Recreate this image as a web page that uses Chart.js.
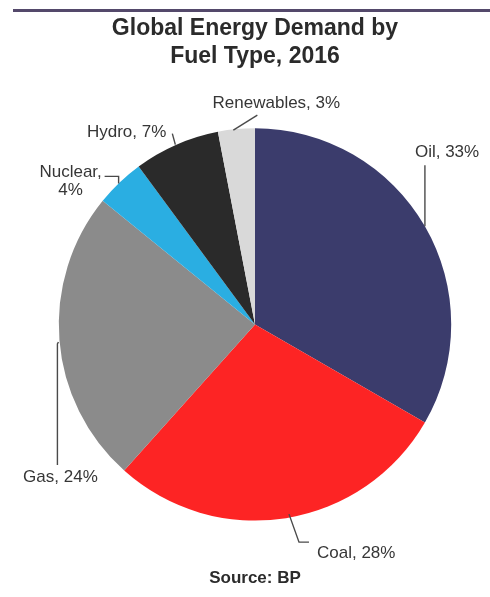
<!DOCTYPE html>
<html>
<head>
<meta charset="utf-8">
<script src="https://cdn.jsdelivr.net/npm/chart.js@4.4.1/dist/chart.umd.min.js"></script>
<style>
html,body{margin:0;padding:0;background:#fff;}
#wrap{width:490px;height:597px;}
</style>
</head>
<body>
<div id="wrap"><canvas id="c" width="490" height="597"></canvas></div>
<script>
const categories = ['Oil', 'Coal', 'Gas', 'Nuclear', 'Hydro', 'Renewables'];
const shares = [33, 28, 24, 4, 7, 3];
const sliceColors = ['#3b3c6c', '#fd2424', '#8b8b8b', '#2aaee2', '#2a2a2a', '#d9d9d9'];
const titleLines = ['Global Energy Demand by', 'Fuel Type, 2016'];
const sourceText = 'Source: BP';

// leader-line geometry, relative to each slice's outer mid-point
const leaderStyle = [
  {path: [[0,0],[0,-61]], dx: -10, dy: -74, align: 'left'},
  {path: [[3,-4],[13,24],[23,24]], dx: 31, dy: 35, align: 'left'},
  {path: [[-1,2],[-2,4],[-2,125]], dx: 1, dy: 137, align: 'center'},
  {path: [[-1,1],[-1,-6],[-15,-6]], dx: -49, dy: -10, align: 'center', multi: true},
  {path: [[-1,0],[-4,-11]], dx: -10, dy: -12, align: 'right'},
  {path: [[-3,1],[21,-14]], dx: 40, dy: -26, align: 'center'}
];

const topRule = {
  id: 'topRule',
  beforeDraw(chart) {
    const ctx = chart.ctx;
    ctx.save();
    ctx.strokeStyle = '#54496b';
    ctx.lineWidth = 3;
    ctx.beginPath();
    ctx.moveTo(13, 10.5);
    ctx.lineTo(490, 10.5);
    ctx.stroke();
    ctx.restore();
  }
};

const leaders = {
  id: 'leaders',
  afterDatasetsDraw(chart) {
    const ctx = chart.ctx;
    const meta = chart.getDatasetMeta(0);
    ctx.save();
    meta.data.forEach((arc, i) => {
      const p = arc.getProps(['x','y','startAngle','endAngle','outerRadius'], true);
      const mid = (p.startAngle + p.endAngle) / 2;
      const ax = p.x + Math.cos(mid) * p.outerRadius;
      const ay = p.y + Math.sin(mid) * p.outerRadius;
      const st = leaderStyle[i];
      ctx.strokeStyle = '#4a4a4a';
      ctx.lineWidth = 1.4;
      ctx.beginPath();
      st.path.forEach((pt, k) => {
        if (k === 0) ctx.moveTo(ax + pt[0], ay + pt[1]);
        else ctx.lineTo(ax + pt[0], ay + pt[1]);
      });
      ctx.stroke();
      ctx.fillStyle = '#363636';
      ctx.font = '17px "Liberation Sans", Arial, sans-serif';
      ctx.textAlign = st.align;
      ctx.textBaseline = 'middle';
      const val = chart.data.datasets[0].data[i];
      const name = chart.data.labels[i];
      if (st.multi) {
        ctx.fillText(name + ',', ax + st.dx, ay + st.dy);
        ctx.fillText(val + '%', ax + st.dx, ay + st.dy + 18);
      } else {
        ctx.fillText(name + ', ' + val + '%', ax + st.dx, ay + st.dy);
      }
    });
    ctx.restore();
  }
};

new Chart(document.getElementById('c'), {
  type: 'pie',
  data: {
    labels: categories,
    datasets: [{
      data: shares,
      backgroundColor: sliceColors,
      borderWidth: 0
    }]
  },
  options: {
    responsive: false,
    animation: false,
    events: [],
    layout: {padding: {left: 20, right: 0, top: 0, bottom: 0}},
    plugins: {
      legend: {display: false},
      tooltip: {enabled: false},
      title: {
        display: true,
        text: titleLines,
        color: '#2b2b2b',
        font: {family: '"Liberation Sans", Arial, sans-serif', size: 23, weight: 'bold', lineHeight: 1.2},
        padding: {top: 15, bottom: 58}
      },
      subtitle: {
        display: true,
        position: 'bottom',
        text: sourceText,
        color: '#2b2b2b',
        font: {family: '"Liberation Sans", Arial, sans-serif', size: 17, weight: 'bold', lineHeight: 1.2},
        padding: {top: 48, bottom: 8}
      }
    }
  },
  plugins: [topRule, leaders]
});
</script>
</body>
</html>
